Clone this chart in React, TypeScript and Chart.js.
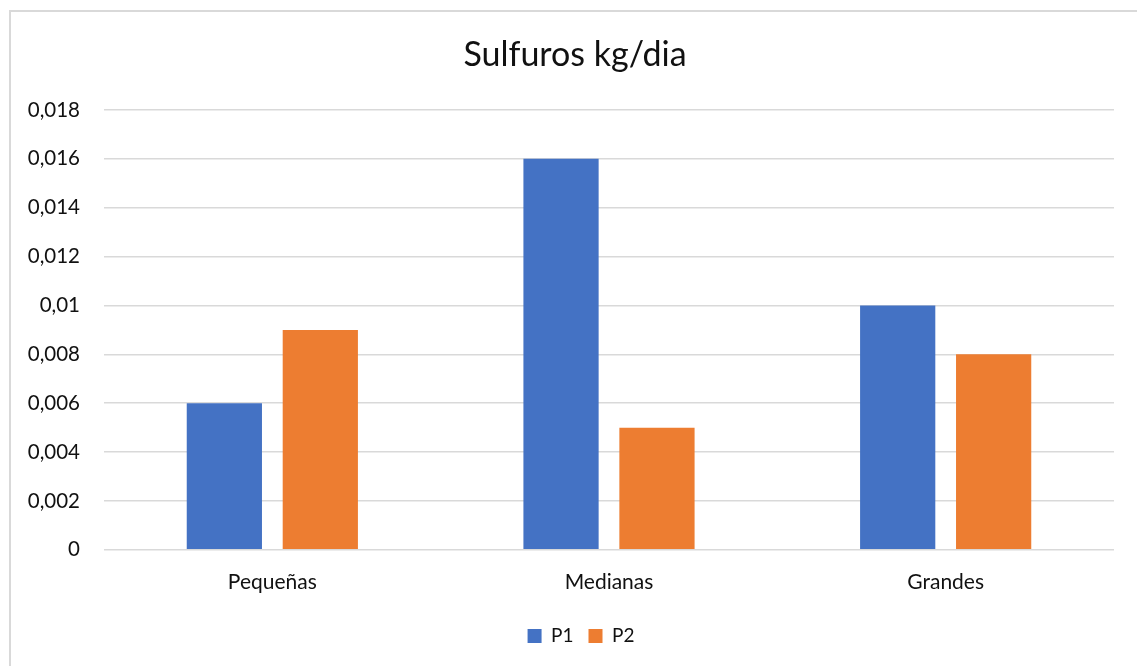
import React, { useEffect, useRef } from "react";
import { Chart, registerables } from "chart.js";

Chart.register(...registerables);

const categories = ["Pequeñas", "Medianas", "Grandes"];
const p1Values = [0.006, 0.016, 0.01];
const p2Values = [0.009, 0.005, 0.008];
const seriesNames = ["P1", "P2"];
const yMin = 0;
const yMax = 0.018;
const yStep = 0.002;
const chartTitle = "Sulfuros kg/dia";

const FONT = "Lato, 'Open Sans', sans-serif";

// Shifts the title and legend blocks horizontally so they are centred like the reference.
const shiftBoxes = {
  id: "shiftBoxes",
  afterLayout(chart: any) {
    const t = chart.titleBlock;
    if (t) {
      t.left += 18;
      t.right += 18;
    }
    const l = chart.legend;
    if (l) {
      l.left += 24;
      l.right += 24;
      if (l.adjustHitBoxes) l.adjustHitBoxes();
    }
  },
};

export default function App() {
  const ref = useRef<HTMLCanvasElement | null>(null);

  useEffect(() => {
    if (!ref.current) return;
    const chart = new Chart(ref.current, {
      type: "bar",
      data: {
        labels: categories,
        datasets: [
          {
            label: seriesNames[0],
            data: p1Values,
            backgroundColor: "#4472C4",
            categoryPercentage: 0.57,
            barPercentage: 0.784,
          },
          {
            label: seriesNames[1],
            data: p2Values,
            backgroundColor: "#ED7D31",
            categoryPercentage: 0.57,
            barPercentage: 0.784,
          },
        ],
      },
      plugins: [shiftBoxes],
      options: {
        responsive: false,
        animation: false,
        layout: { padding: { left: 0, right: 23, top: 0, bottom: 10.6 } },
        plugins: {
          tooltip: { enabled: false },
          title: {
            display: true,
            text: chartTitle,
            color: "#111",
            font: { family: FONT, size: 34, weight: "normal" },
            padding: { top: 34.6, bottom: 34.6 },
          },
          legend: {
            position: "bottom",
            labels: {
              color: "#111",
              font: { family: FONT, size: 19 },
              boxWidth: 14,
              boxHeight: 14,
              padding: 15,
            },
          },
        },
        scales: {
          x: {
            grid: { display: false, drawTicks: false },
            border: { display: false },
            ticks: {
              color: "#111",
              font: { family: FONT, size: 21 },
              padding: 19.5,
            },
            afterFit: (s: any) => {
              s.height = 61.6;
            },
          },
          y: {
            min: yMin,
            max: yMax,
            grid: { color: "#d9d9d9", lineWidth: 1.5, drawTicks: false },
            border: { display: false },
            ticks: {
              stepSize: yStep,
              color: "#111",
              font: { family: FONT, size: 20.5 },
              padding: 24,
              callback: (v: any) => Number(Number(v).toFixed(3)).toString().replace(".", ","),
            },
            afterFit: (s: any) => {
              s.width = 104;
            },
          },
        },
      },
    });
    return () => chart.destroy();
  }, []);

  return (
    <div
      style={{
        position: "fixed",
        left: 0,
        top: 0,
        width: 1137,
        height: 666,
        background: "#fff",
        overflow: "hidden",
      }}
    >
      <div
        style={{
          position: "absolute",
          left: 9,
          top: 10,
          width: 1200,
          height: 700,
          border: "2px solid #d9d9d9",
          boxSizing: "border-box",
        }}
      />
      <canvas
        ref={ref}
        width={1137}
        height={666}
        style={{ position: "absolute", left: 0, top: 0, width: 1137, height: 666 }}
      />
    </div>
  );
}
